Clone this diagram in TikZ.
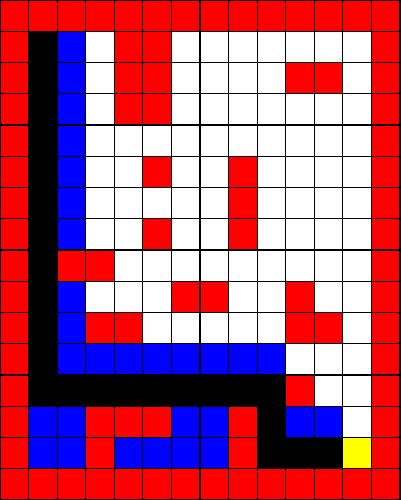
\documentclass[tikz,border=0pt]{standalone}
\usepackage{tikz}
\usepackage{xcolor}
\definecolor{cR}{HTML}{FF0000}
\definecolor{cK}{HTML}{000000}
\definecolor{cB}{HTML}{0000FF}
\definecolor{cW}{HTML}{FFFFFF}
\definecolor{cY}{HTML}{FFFF00}
\begin{document}
\begin{tikzpicture}[
    cell/.style={draw=black, line width=1.2pt},
    x=1cm, y=1.09375cm
]
\useasboundingbox (0,0) rectangle (14,-16);

% maze rows, top to bottom
\foreach \row [count=\r from 0] in {
    {R,R,R,R,R,R,R,R,R,R,R,R,R,R},
    {R,K,B,W,R,R,W,W,W,W,W,W,W,R},
    {R,K,B,W,R,R,W,W,W,W,R,R,W,R},
    {R,K,B,W,R,R,W,W,W,W,W,W,W,R},
    {R,K,B,W,W,W,W,W,W,W,W,W,W,R},
    {R,K,B,W,W,R,W,W,R,W,W,W,W,R},
    {R,K,B,W,W,W,W,W,R,W,W,W,W,R},
    {R,K,B,W,W,R,W,W,R,W,W,W,W,R},
    {R,K,R,R,W,W,W,W,W,W,W,W,W,R},
    {R,K,B,W,W,W,R,R,W,W,R,W,W,R},
    {R,K,B,R,R,W,W,W,W,W,R,R,W,R},
    {R,K,B,B,B,B,B,B,B,B,W,W,W,R},
    {R,K,K,K,K,K,K,K,K,K,R,W,W,R},
    {R,B,B,R,R,R,B,B,R,K,B,B,W,R},
    {R,B,B,R,B,B,B,B,R,K,K,K,Y,R},
    {R,R,R,R,R,R,R,R,R,R,R,R,R,R}%
}{
    \foreach \c [count=\x from 0] in \row {
        \draw[cell, fill=c\c] (\x,-\r) rectangle ++(1,-1);
    }
}

\end{tikzpicture}
\end{document}
